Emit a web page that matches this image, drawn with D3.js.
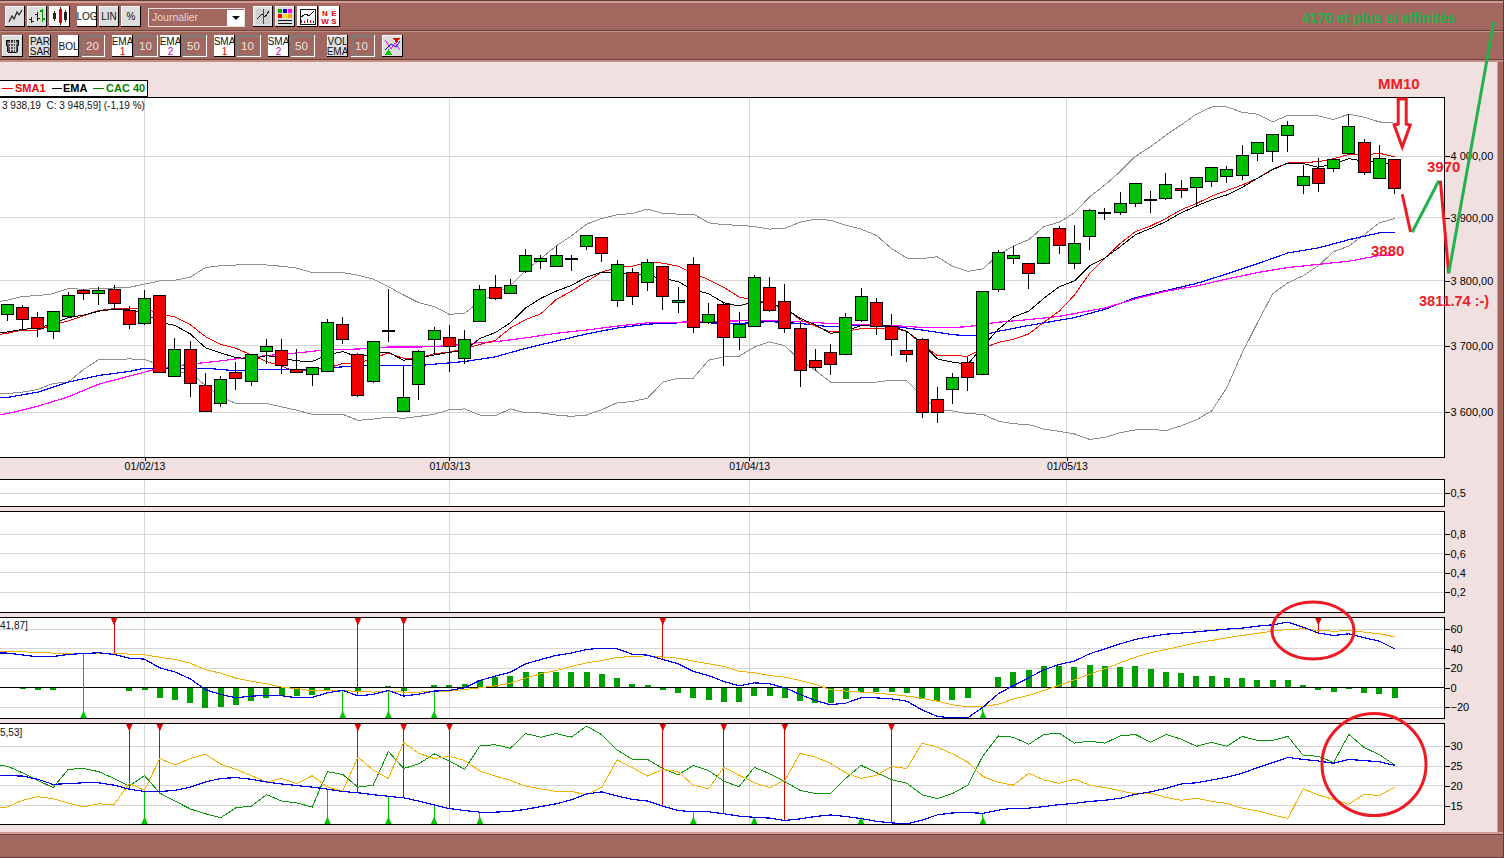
<!DOCTYPE html>
<html>
<head>
<meta charset="utf-8">
<title>CAC 40</title>
<script src="https://cdnjs.cloudflare.com/ajax/libs/d3/7.8.5/d3.min.js"></script>
<style>
  html, body { margin: 0; padding: 0; background: #f0e0e0; overflow: hidden; }
  text { font-family: "Liberation Sans", Arial, sans-serif; }
</style>
</head>
<body>
<div id="chart"></div>
<script>
// ---- candles, one per session
const opens = [3748,3759,3744,3722,3745,3785,3780,3787,3754,3734,3778,3653,3694,3640,3613,3659,3646,3691,3693,3664,3656,3661,3733,3687,3646,3723,3601,3641,3710,3713,3681,3737,3790,3781,3815,3830,3823,3835,3855,3869,3770,3813,3798,3823,3767,3825,3735,3764,3712,3730,3789,3768,3727,3678,3689,3686,3739,3767,3730,3693,3709,3619,3634,3675,3656,3787,3835,3828,3828,3883,3827,3870,3909,3909,3923,3930,3931,3948,3949,3959,3967,3968,4005,4008,4035,3953,3980,3980,4005,4023,3964,3995];
const highs = [3764,3763,3752,3753,3783,3788,3791,3794,3761,3786,3778,3712,3707,3659,3654,3676,3687,3711,3711,3695,3667,3741,3744,3689,3707,3787,3669,3693,3729,3732,3724,3794,3809,3803,3850,3841,3855,3841,3872,3869,3833,3820,3834,3823,3790,3838,3765,3765,3752,3810,3806,3795,3737,3695,3703,3750,3789,3774,3749,3722,3712,3638,3659,3683,3783,3849,3855,3828,3870,3887,3889,3914,3916,3942,3957,3944,3973,3961,3966,3982,3984,4019,4023,4036,4058,3985,3997,3998,4071,4028,4019,3995];
const lows = [3738,3726,3714,3711,3745,3771,3762,3757,3725,3731,3659,3653,3623,3601,3608,3633,3639,3673,3657,3659,3639,3661,3702,3623,3644,3705,3601,3618,3686,3660,3673,3737,3770,3779,3813,3818,3823,3816,3849,3829,3760,3763,3785,3755,3750,3719,3733,3669,3694,3730,3752,3719,3638,3662,3655,3686,3736,3717,3685,3676,3591,3584,3612,3631,3656,3782,3826,3788,3828,3843,3818,3848,3897,3904,3918,3908,3929,3932,3920,3950,3957,3961,3993,3991,4007,3939,3941,3975,4003,3970,3964,3938];
const closes = [3764,3740,3727,3753,3778,3780,3785,3765,3733,3773,3659,3694,3643,3601,3649,3650,3687,3699,3670,3659,3667,3736,3710,3625,3707,3721,3622,3691,3724,3699,3710,3787,3773,3793,3840,3836,3840,3833,3872,3843,3825,3776,3829,3775,3770,3728,3748,3712,3732,3806,3754,3727,3663,3667,3671,3744,3776,3730,3710,3686,3600,3600,3652,3652,3783,3844,3840,3812,3869,3856,3859,3912,3907,3923,3956,3928,3954,3944,3966,3982,3979,4002,4023,4036,4051,3967,3956,3995,4050,3974,3997,3948];

// ---- overlays, first value belongs to the session just off the left edge
const bollUpper = [3766,3770,3776,3777,3780,3788,3787,3788,3789,3790,3795,3800,3801,3806,3821,3824,3825,3825,3825,3823,3820,3813,3813,3813,3809,3803,3791,3778,3766,3760,3748,3750,3768,3780,3793,3817,3835,3855,3871,3890,3899,3905,3907,3914,3907,3906,3906,3892,3889,3888,3886,3882,3883,3893,3898,3896,3888,3882,3872,3851,3836,3835,3838,3823,3815,3819,3841,3855,3865,3886,3893,3908,3934,3953,3975,4000,4016,4035,4052,4070,4082,4082,4073,4070,4057,4068,4068,4067,4061,4070,4065,4057,4055];
const bollLower = [3628,3628,3630,3634,3643,3645,3664,3679,3679,3680,3679,3671,3660,3659,3640,3623,3613,3613,3613,3608,3603,3597,3597,3597,3588,3590,3593,3591,3594,3597,3604,3605,3596,3595,3605,3599,3599,3596,3594,3596,3604,3614,3616,3621,3645,3651,3651,3678,3683,3684,3698,3706,3700,3678,3663,3645,3644,3645,3645,3648,3647,3625,3604,3602,3598,3597,3587,3583,3582,3575,3572,3568,3560,3563,3570,3574,3575,3573,3580,3589,3602,3637,3689,3735,3780,3797,3808,3824,3846,3855,3873,3892,3899];
const sma1 = [3716,3719,3724,3724,3732,3738,3746,3754,3757,3757,3757,3749,3744,3732,3714,3702,3696,3686,3676,3669,3660,3664,3666,3673,3673,3681,3689,3681,3681,3688,3690,3696,3702,3708,3727,3740,3749,3771,3784,3799,3814,3821,3823,3829,3828,3823,3812,3802,3790,3775,3770,3765,3758,3740,3730,3721,3722,3726,3727,3727,3722,3702,3685,3685,3684,3696,3705,3710,3718,3736,3753,3778,3812,3836,3859,3878,3887,3899,3913,3923,3935,3944,3953,3964,3979,3989,3990,3991,3996,4003,4002,4005,3999];
const ema1 = [3718,3721,3725,3727,3734,3743,3747,3753,3756,3755,3750,3736,3731,3718,3697,3689,3682,3680,3685,3681,3677,3676,3686,3691,3683,3688,3690,3678,3681,3686,3690,3693,3711,3720,3735,3758,3773,3784,3793,3806,3814,3813,3811,3808,3804,3799,3786,3780,3766,3761,3768,3764,3758,3742,3732,3719,3722,3731,3732,3730,3722,3704,3680,3675,3672,3699,3725,3744,3753,3773,3791,3800,3824,3836,3854,3873,3883,3894,3908,3919,3929,3937,3949,3964,3978,3989,3988,3982,3988,3996,3992,3990,3986];
// slow averages, read at [session, price]
const ema2 = [[-1,3621],[0,3622],[2,3630],[4,3645],[6,3655],[8,3661],[9,3666],[10,3666],[13,3666],[15,3662],[17,3664],[19,3664],[21,3666],[23,3670],[25,3670],[27,3670],[28,3672],[30,3676],[32,3683],[34,3696],[36,3707],[38,3718],[40,3727],[42,3733],[44,3735],[46,3735],[48,3734],[50,3737],[52,3734],[54,3729],[56,3731],[58,3730],[60,3724],[62,3717],[63,3715],[64,3716],[65,3722],[67,3731],[70,3743],[72,3756],[74,3774],[76,3785],[78,3796],[80,3811],[82,3827],[84,3844],[86,3852],[88,3865],[90,3876],[91,3877]];
const sma2 = [[-1,3595],[0,3598],[2,3609],[4,3623],[6,3642],[8,3654],[9,3660],[10,3666],[12,3672],[14,3677],[15,3680],[17,3685],[19,3689],[21,3694],[23,3695],[25,3698],[27,3698],[29,3700],[31,3705],[32,3706],[34,3712],[36,3719],[38,3724],[40,3730],[42,3735],[44,3736],[46,3737],[48,3738],[50,3739],[52,3737],[54,3734],[56,3732],[58,3731],[60,3728],[62,3728],[63,3729],[64,3733],[65,3736],[67,3740],[69,3745],[72,3758],[74,3772],[76,3784],[78,3792],[80,3803],[82,3813],[84,3821],[86,3826],[88,3831],[90,3840],[91,3841]];

const priceTicks = [3600, 3700, 3800, 3900, 4000];
const dateLabels = ["01/02/13", "01/03/13", "01/04/13", "01/05/13"];
const datePositions = [9, 29, 48.67, 69.5];

// ---- MACD panel
const macdLine = [35.6,35.6,33.7,31.8,32.1,34.2,35.2,35.9,34.2,30.4,29.4,20.5,16.2,9.2,-2,-6.8,-10.3,-8.5,-7.9,-8.2,-10.3,-9.9,-5.1,-2.7,-8.2,-6.8,-2.7,-8.5,-6.5,-3.4,-2.7,0,7.5,12,16,24.6,29,33.2,35.6,39.3,40.7,40,34.5,33.5,29,24.6,16.8,12.6,6.5,2,5.1,4.1,0,-6.8,-13,-17.4,-15.7,-10.3,-10.3,-11.3,-13.7,-22.6,-29.4,-30.8,-30.8,-19.8,-6.2,2.4,10.3,18.5,23.9,27.4,34.9,40,45.1,49.6,52.6,55,56.1,57.4,58.8,60.2,61.2,63.2,64.6,67.4,62.2,56.1,53.7,55.4,51.3,47.9,40];
const macdSignal = [36.9,36.9,36.9,36.2,35.6,35.6,35.6,35.6,35.6,34.5,33.8,31.4,29,25.3,18.5,15,9.9,6.8,4.1,0.7,-1,-3.1,-2.7,-2.7,-3.8,-4.4,-3.8,-4.4,-4.4,-3.8,-3.4,-1.7,0,2,4.8,9.9,14.4,17.8,21.9,25.6,28,31.1,32.1,32.8,31.5,30.4,27.4,24.6,21.9,17,15.4,12.6,10.9,7.5,3.4,-2,-3.4,-4.4,-5.5,-6.8,-8.5,-10.6,-13.7,-17.4,-19.5,-19.1,-17,-11.3,-7.9,-2.7,2.4,8.2,13.7,19.5,25.6,31.5,35.9,39.3,42.7,46.2,48.5,51.3,53.7,55.7,58.1,59.8,60.5,58.8,58.1,58.5,57.1,55.4,52.3];
const macdHist = [0,-1.7,-2.7,-2.7,0,0,0,0,-3.7,-2.7,-10,-12,-16,-21,-20,-18,-14,-10,-8,-8,-7,-2,0,-4,0,1.4,-3,0,2.4,2.4,3.4,8.5,10.6,12.6,15.7,16.7,16.7,15.7,15.7,13.7,9.6,3.4,2.4,-2.7,-5.8,-10,-12,-15,-15,-8.9,-8.9,-10,-14,-16,-16,-11,-3.8,-3.8,-3.8,-5.8,-11,-14,-12,-10,0,10.6,16.7,17.8,21.9,21.9,20.9,22.9,21.9,20.9,21.9,18.8,16.7,14.7,12.6,11.6,9.6,9.6,8.5,8.5,8.5,2.4,-2.4,-4.4,-1.4,-5.5,-6.5,-10.6];
const macdTicks = [-20, 0, 20, 40, 60];
const macdSell = [7, 23, 26, 43, 86];
const macdBuy = [5, 22, 25, 28, 64];

// ---- DMI panel
const adx = [22.6,22.6,22.5,21.7,20.4,20.6,20.8,20.8,20.2,19.2,18.6,18.6,18.9,19.7,21,21.9,22.1,21.7,21,20.5,20.1,19.7,19.2,18.6,18.3,17.8,17.4,17,16.2,15.2,14.3,13.8,13.4,13.4,13.6,14.1,14.8,15.5,16.5,18,18.5,17.5,16.6,16.2,14.9,13.8,13.5,13.5,13,12.4,12.1,11.9,11.3,11.7,12.3,12.7,12.3,11.8,11.1,10.7,10.4,11.4,12.7,13.2,13.3,13.1,13.9,14.4,14.4,14.8,15.3,15.6,16.1,16.4,16.9,17.9,18.5,19.4,20.5,20.8,21.5,22.2,23.2,24.6,25.9,27.2,26.7,26.3,25.7,26.7,26.4,26.1,25.2];
const diPlus = [25.2,25,23.3,21.4,19.6,24.2,24.4,23.6,21.9,20,22.6,18.2,16.2,14.2,13,12,14.5,14.9,17.8,16.2,15.7,14.7,23.6,22.9,19.7,20.2,28.7,24.4,25.6,28.1,26.3,24.2,30.1,30.4,29.5,33.2,32.3,33.2,32.3,35.1,32.9,29.1,26.7,26.7,24.4,22.8,25.2,23.9,21.2,19.8,24.7,23.1,21.1,18.9,18.1,18.1,21.9,25.2,23.4,21.6,20.7,17.8,16.8,18.1,20.2,27.6,32.6,32.3,30.5,33,33.3,30.8,31.3,30.8,32.6,33,31,33,31.8,30,31,30,32.5,31.5,31.5,32.5,27.7,27.5,25.9,33,29.7,27.9,25.3];
const diMinus = [14.5,14.7,16.4,17.3,16.8,15.7,14.7,15.5,15.3,20.6,18.9,26.9,25.3,26.9,28,25.5,24.2,22.6,21,21.9,20.6,22.6,19.7,18.7,27.3,24,21.9,31,28.2,26.9,27.5,26.4,23.8,22.5,21.4,19.9,19.3,18.6,18.6,17.8,19.7,26.6,24.6,22.5,24.2,23.6,20.2,19.3,24.7,22.7,20.8,19.6,21.4,28.2,27.3,25.7,23.3,21.9,22.7,24.9,24.4,30.8,29.8,28.1,26,22.4,20.9,20.2,23.2,21.5,20.7,21.7,20.2,19.6,18.8,18,18.2,17.1,16.4,16.9,16.1,15.6,14.4,13.7,12.7,11.8,19.3,17.7,16.6,15.4,17.9,17.6,19.7];
const dmiTicks = [15, 20, 25, 30];
const dmiSell = [8, 10, 23, 26, 29, 43, 47, 51, 58];
const dmiBuy = [9, 21, 25, 28, 31, 45, 49, 56, 64];

// ---- empty panels
const volTicks = [0.5];
const oscTicks = [0.2, 0.4, 0.6, 0.8];

// ---- hand drawn forecast, [session, price]
const forecastDown1 = [[91.5, 3938], [92.05, 3877]];
const forecastUp1 = [[92.15, 3877], [93.9, 3960]];
const forecastDown2 = [[94, 3960], [94.55, 3812]];
const forecastUp2 = [[94.55, 3812], [97.5, 4227]];

const W = 1504, H = 858;
const plotRight = 1444.5;
const BROWN = "#a26860", PINK = "#f0e0e0", GRID = "#d6d6d6";
const GREEN = "#00bf00", RED = "#f00000", HAND_RED = "#ed1c24", HAND_GREEN = "#22b14c";

const svg = d3.select("#chart").append("svg")
  .attr("width", W)
  .attr("height", H)
  .style("display", "block");

const frLocale = d3.formatLocale({ decimal: ",", thousands: " ", grouping: [3], currency: ["", ""] });

const x = d3.scaleLinear().domain([0, 91]).range([7.3, 1394.6]);
const yPrice = d3.scaleLog().domain([3600, 4000]).range([412.3, 156.3]);
const yVol = d3.scaleLinear().domain([0, 0.5]).range([507, 493.3]);
const yOsc = d3.scaleLinear().domain([0.2, 0.8]).range([592.3, 534.3]);
const yMacd = d3.scaleLinear().domain([-20, 60]).range([707.3, 629.3]);
const yDmi = d3.scaleLinear().domain([15, 30]).range([805.8, 746.3]);

// ---- window background
svg.append("rect").attr("width", W).attr("height", H).attr("fill", PINK);
svg.append("rect").attr("width", W).attr("height", 61).attr("fill", BROWN);
svg.append("rect").attr("y", 832).attr("width", W).attr("height", 26).attr("fill", BROWN);
svg.append("rect").attr("x", 1497).attr("y", 60).attr("width", 7).attr("height", 775).attr("fill", BROWN);
[[0, 1, "#5e3a35"], [1, 2, "#d39b92"], [30, 1, "#6b443e"], [31, 1, "#c58f87"], [59, 1, "#6b443e"], [60, 2, "#c58f87"], [832, 2, "#d39b92"], [834, 1, "#6b443e"], [857, 1, "#5e3a35"]]
  .forEach(b => svg.append("rect").attr("y", b[0]).attr("width", W).attr("height", b[1]).attr("fill", b[2]));
svg.append("rect").attr("x", 1497).attr("y", 60).attr("width", 1).attr("height", 772).attr("fill", "#d39b92");
svg.append("rect").attr("x", 1503).attr("width", 1).attr("height", H).attr("fill", "#5e3a35");

// ---- toolbar
const toolbar = svg.append("g");

function button(bx, by, w, h, lines, opts = {}) {
  const g = toolbar.append("g").attr("transform", `translate(${bx},${by})`).style("shape-rendering", "crispEdges");
  g.append("rect").attr("width", w).attr("height", h).attr("fill", opts.on ? "#fff" : "#dedede");
  g.append("path").attr("d", `M0.5,${h - 0.5}V0.5H${w - 0.5}`).attr("fill", "none").attr("stroke", "#fff");
  g.append("path").attr("d", `M${w - 0.5},0V${h - 0.5}H0`).attr("fill", "none").attr("stroke", "#000").attr("stroke-width", 1.6);
  const lh = 10;
  lines.forEach((t, i) => {
    g.append("text")
      .attr("x", w / 2)
      .attr("y", h / 2 + 3.5 + (i - (lines.length - 1) / 2) * lh)
      .attr("text-anchor", "middle")
      .attr("font-size", 10)
      .attr("fill", t === "1" ? "#e00000" : t === "2" ? "#c000c0" : "#111")
      .style("shape-rendering", "auto")
      .text(t);
  });
  return g;
}

function valueBox(bx, by, w, h, label) {
  const g = toolbar.append("g").attr("transform", `translate(${bx},${by})`).style("shape-rendering", "crispEdges");
  g.append("rect").attr("width", w).attr("height", h).attr("fill", "#fff");
  g.append("rect").attr("x", 0).attr("y", 0).attr("width", w - 1).attr("height", h - 1).attr("fill", "#7c7c7c");
  g.append("rect").attr("x", 2).attr("y", 2).attr("width", w - 4).attr("height", h - 4).attr("fill", BROWN);
  g.append("text").attr("x", 4).attr("y", h / 2 + 4).attr("font-size", 11.5).attr("fill", "#ece2e0").style("shape-rendering", "auto").text(label);
}

const chartIcon1 = button(5, 6, 20, 21, []);
chartIcon1.append("path").attr("d", "M4,16L7,10L9,13L12,6L14,9L17,4").attr("fill", "none").attr("stroke", "#222").attr("stroke-width", 1.2).style("shape-rendering", "auto");
const chartIcon2 = button(27, 6, 20, 21, []);
chartIcon2.append("path").attr("d", "M4.5,11V17M2,13H4.5M4.5,15H7M10.5,6V15M8,8H10.5M10.5,12H13").attr("stroke", "#222").attr("fill", "none");
chartIcon2.append("path").attr("d", "M15.5,3V16M13,5H15.5M15.5,13H18").attr("stroke", "#00a000").attr("stroke-width", 1.5).attr("fill", "none");
const chartIcon3 = button(49, 6, 21, 21, [], { on: true });
[[5, 7, 13, "#222"], [11, 3, 17, "#e00000"], [16, 6, 14, "#222"]].forEach(c => {
  chartIcon3.append("path").attr("d", `M${c[0] + 0.5},${c[1] - 2}V${c[2] + 2}`).attr("stroke", "#222");
  chartIcon3.append("rect").attr("x", c[0] - 1).attr("y", c[1]).attr("width", 3).attr("height", c[2] - c[1]).attr("fill", c[3]);
});
button(77, 6, 20, 21, ["LOG"], { on: true });
button(99, 6, 20, 21, ["LIN"]);
button(121, 6, 20, 21, ["%"]);

// period selector
toolbar.append("rect").attr("x", 148.5).attr("y", 8.5).attr("width", 96).attr("height", 18)
  .attr("fill", BROWN).attr("stroke", "#e8dcdc").style("shape-rendering", "crispEdges");
toolbar.append("rect").attr("x", 227).attr("y", 10).attr("width", 17).attr("height", 16).attr("fill", "#fff");
toolbar.append("path").attr("d", "M232,16H240L236,20Z").attr("fill", "#111");
toolbar.append("text").attr("x", 152).attr("y", 21).attr("font-size", 10.5).attr("fill", "#e4d6d4").text("Journalier");

const toolIcon1 = button(253, 6, 20, 21, []);
toolIcon1.append("rect").attr("x", 3).attr("y", 3).attr("width", 14).attr("height", 15).attr("fill", "#cfcfcf");
toolIcon1.append("path").attr("d", "M4,13L9,8L12,11L16,5").attr("fill", "none").attr("stroke", "#222");
toolIcon1.append("path").attr("d", "M10.5,3V18").attr("stroke", "#e00000");
const toolIcon2 = button(275, 6, 20, 21, []);
[[3, 3, "#00a000"], [8, 3, "#0000e0"], [13, 3, "#ff00ff"], [3, 8, "#ff0000"], [8, 8, "#ffe000"], [13, 8, "#ffa000"]].forEach(c =>
  toolIcon2.append("rect").attr("x", c[0]).attr("y", c[1]).attr("width", 4).attr("height", 4).attr("fill", c[2]));
toolIcon2.append("path").attr("d", "M3,14.5H17M3,17.5H17").attr("stroke", "#111");
const toolIcon3 = button(297, 6, 21, 21, [], { on: true });
toolIcon3.append("rect").attr("x", 3).attr("y", 3).attr("width", 15).attr("height", 15).attr("fill", "#fff").attr("stroke", "#111");
toolIcon3.append("path").attr("d", "M4,11L9,8L12,10L17,5").attr("fill", "none").attr("stroke", "#111");
toolIcon3.append("path").attr("d", "M4,17V14M7,17V15M10,17V13M13,17V14M16,17V15").attr("stroke", "#e00000");
const toolIcon4 = button(319, 6, 21, 21, [], { on: true });
toolIcon4.selectAll("text").data(["N", "E", "W", "S"]).join("text")
  .attr("x", (d, i) => 6 + (i % 2) * 9)
  .attr("y", (d, i) => 10 + Math.floor(i / 2) * 8)
  .attr("text-anchor", "middle")
  .attr("font-size", 8)
  .attr("font-weight", "bold")
  .attr("fill", "#e00000")
  .text(d => d);

const trash = button(2, 35, 21, 22, []);
trash.append("path").attr("d", "M4,5H17L15,17H6Z").attr("fill", "#555").attr("stroke", "#111");
trash.append("path").attr("d", "M6,8H15M7,11H14M8,14H13M8,5V17M11,5V17M13,5V17").attr("stroke", "#ccc");
button(29, 35, 22, 22, ["PAR", "SAR"]);
button(58, 35, 21, 22, ["BOL"], { on: true });
valueBox(82, 35, 23, 22, "20");
button(112, 35, 21, 22, ["EMA", "1"], { on: true });
valueBox(135, 35, 23, 22, "10");
button(160, 35, 21, 22, ["EMA", "2"], { on: true });
valueBox(183, 35, 24, 22, "50");
button(214, 35, 21, 22, ["SMA", "1"], { on: true });
valueBox(237, 35, 24, 22, "10");
button(268, 35, 21, 22, ["SMA", "2"], { on: true });
valueBox(291, 35, 24, 22, "50");
button(327, 35, 21, 22, ["VOL", "EMA"]);
valueBox(351, 35, 24, 22, "10");
const signalIcon = button(382, 35, 21, 22, []);
signalIcon.append("path").attr("d", "M3,5L9,14L13,8L18,15").attr("fill", "none").attr("stroke", "#ff00ff").style("shape-rendering", "auto");
signalIcon.append("path").attr("d", "M3,15L9,9L14,12L18,6").attr("fill", "none").attr("stroke", "#0000e0").style("shape-rendering", "auto");
signalIcon.append("path").attr("d", "M11,3H18L14.5,8Z").attr("fill", "#e00000");
signalIcon.append("path").attr("d", "M3,20L6.5,14L10,20Z").attr("fill", "#00c000");

// ---- panels
const panels = [
  { top: 97, bottom: 457.5 },
  { top: 479.5, bottom: 506.5 },
  { top: 511.5, bottom: 612.5 },
  { top: 617.5, bottom: 718.5 },
  { top: 723.5, bottom: 824.5 }
];

panels.forEach(p => {
  svg.append("rect")
    .attr("x", -2)
    .attr("y", p.top)
    .attr("width", plotRight + 2)
    .attr("height", p.bottom - p.top)
    .attr("fill", "#fff");
});

const defs = svg.append("defs");
panels.forEach((p, i) => {
  defs.append("clipPath").attr("id", `clip${i}`).append("rect")
    .attr("x", 0).attr("y", p.top).attr("width", plotRight).attr("height", p.bottom - p.top);
});

// vertical date lines run through every panel
panels.forEach(p => {
  svg.append("g").selectAll("line").data(datePositions).join("line")
    .attr("x1", d => x(d)).attr("x2", d => x(d))
    .attr("y1", p.top).attr("y2", p.bottom)
    .attr("stroke", GRID)
    .style("shape-rendering", "crispEdges");
});

function hGrid(scale, ticks) {
  svg.append("g").selectAll("line").data(ticks).join("line")
    .attr("x1", 0).attr("x2", plotRight)
    .attr("y1", d => scale(d)).attr("y2", d => scale(d))
    .attr("stroke", GRID)
    .style("shape-rendering", "crispEdges");
}
hGrid(yPrice, priceTicks);
hGrid(yVol, volTicks);
hGrid(yOsc, oscTicks);
hGrid(yMacd, macdTicks);
hGrid(yDmi, dmiTicks);

const bySession = arr => arr.map((v, i) => [i - 1, v]);

function drawLine(layer, pts, scale, color, width = 1) {
  const line = d3.line().x(d => x(d[0])).y(d => scale(d[1]));
  layer.append("path")
    .datum(pts)
    .attr("d", line)
    .attr("fill", "none")
    .attr("stroke", color)
    .attr("stroke-width", width)
    .style("shape-rendering", "crispEdges");
}

// ---- main price panel
const main = svg.append("g").attr("clip-path", "url(#clip0)");
drawLine(main, bySession(bollUpper), yPrice, "#8c8c8c");
drawLine(main, bySession(bollLower), yPrice, "#8c8c8c");
drawLine(main, ema2, yPrice, "#0000f0", 1.2);
drawLine(main, sma2, yPrice, "#ff00ff", 1.2);
drawLine(main, bySession(sma1), yPrice, "#f00000");
drawLine(main, bySession(ema1), yPrice, "#000000");

const candleData = opens.map((o, i) => ({ i, o, h: highs[i], l: lows[i], c: closes[i] }));
const candles = main.selectAll(".candle").data(candleData).join("g").attr("class", "candle").style("shape-rendering", "crispEdges");
candles.append("line")
  .attr("x1", d => x(d.i)).attr("x2", d => x(d.i))
  .attr("y1", d => yPrice(d.h)).attr("y2", d => yPrice(d.l))
  .attr("stroke", "#000");
candles.append("rect")
  .attr("x", d => x(d.i) - 6)
  .attr("width", 12)
  .attr("y", d => yPrice(Math.max(d.o, d.c)))
  .attr("height", d => Math.abs(yPrice(d.o) - yPrice(d.c)))
  .attr("fill", d => Math.abs(d.o - d.c) <= 2 ? "#000" : d.c >= d.o ? GREEN : RED)
  .attr("stroke", "#000");

// ---- MACD panel
const macdG = svg.append("g").attr("clip-path", "url(#clip3)");
macdG.append("g").selectAll("rect").data(macdHist).join("rect")
  .attr("x", (d, i) => x(i) - 3)
  .attr("width", 6)
  .attr("y", d => Math.min(yMacd(0), yMacd(d)))
  .attr("height", d => Math.abs(yMacd(d) - yMacd(0)))
  .attr("fill", "#00a000")
  .style("shape-rendering", "crispEdges");
macdG.append("line").attr("x1", 0).attr("x2", plotRight).attr("y1", yMacd(0)).attr("y2", yMacd(0))
  .attr("stroke", "#000").style("shape-rendering", "crispEdges");

function drawSignals(layer, sell, buy, values, scale, panel) {
  sell.forEach(i => {
    layer.append("line").attr("x1", x(i)).attr("x2", x(i)).attr("y1", panel.top).attr("y2", scale(values[i + 1]))
      .attr("stroke", "#e00000").style("shape-rendering", "crispEdges");
    layer.append("path").attr("d", `M${x(i) - 3.5},${panel.top}H${x(i) + 3.5}L${x(i)},${panel.top + 8}Z`).attr("fill", "#e00000");
  });
  buy.forEach(i => {
    layer.append("line").attr("x1", x(i)).attr("x2", x(i)).attr("y1", panel.bottom).attr("y2", scale(values[i + 1]))
      .attr("stroke", "#00c800").style("shape-rendering", "crispEdges");
    layer.append("path").attr("d", `M${x(i) - 3.5},${panel.bottom}H${x(i) + 3.5}L${x(i)},${panel.bottom - 8}Z`).attr("fill", "#00c800");
  });
}

drawSignals(macdG, macdSell, macdBuy, macdLine, yMacd, panels[3]);
drawLine(macdG, bySession(macdSignal), yMacd, "#f5b000");
drawLine(macdG, bySession(macdLine), yMacd, "#0000e0", 1.2);

// ---- DMI panel
const dmiG = svg.append("g").attr("clip-path", "url(#clip4)");
drawSignals(dmiG, dmiSell, dmiBuy, adx, yDmi, panels[4]);
drawLine(dmiG, bySession(diPlus), yDmi, "#0a960a");
drawLine(dmiG, bySession(diMinus), yDmi, "#f5b000");
drawLine(dmiG, bySession(adx), yDmi, "#0000e0", 1.2);

// ---- panel frames
panels.forEach(p => {
  svg.append("rect")
    .attr("x", -2)
    .attr("y", p.top)
    .attr("width", plotRight + 2)
    .attr("height", p.bottom - p.top)
    .attr("fill", "none")
    .attr("stroke", "#000")
    .style("shape-rendering", "crispEdges");
});

// ---- axes
function rightAxis(scale, ticks, fmt) {
  const g = svg.append("g")
    .attr("transform", `translate(${plotRight},0)`)
    .call(d3.axisRight(scale).tickValues(ticks).tickFormat(fmt).tickSize(5).tickPadding(1));
  g.select(".domain").remove();
  g.selectAll("line").style("shape-rendering", "crispEdges").attr("stroke", "#000");
  g.selectAll("text")
    .style("font-family", '"Liberation Sans", Arial, sans-serif')
    .style("font-size", "11px")
    .attr("fill", "#000");
}
rightAxis(yPrice, priceTicks, frLocale.format(",.2f"));
rightAxis(yVol, volTicks, frLocale.format(".1f"));
rightAxis(yOsc, oscTicks, frLocale.format(".1f"));
rightAxis(yMacd, macdTicks, d3.format("d"));
rightAxis(yDmi, dmiTicks, d3.format("d"));

const dateAxis = svg.append("g")
  .attr("transform", `translate(0,${panels[0].bottom})`)
  .call(d3.axisBottom(x).tickValues(datePositions).tickFormat((d, i) => dateLabels[i]).tickSize(3).tickPadding(2));
dateAxis.select(".domain").remove();
dateAxis.selectAll("line").style("shape-rendering", "crispEdges").attr("stroke", "#000");
dateAxis.selectAll("text")
  .style("font-family", '"Liberation Sans", Arial, sans-serif')
  .style("font-size", "10.5px")
  .attr("fill", "#000");

// ---- legend and readouts
const legend = svg.append("g");
legend.append("rect").attr("x", -2).attr("y", 80.5).attr("width", 149.5).attr("height", 16)
  .attr("fill", "#fff").attr("stroke", "#000").style("shape-rendering", "crispEdges");
[
  { x1: 2, x2: 13, tx: 15, label: "SMA1", color: "#f00000" },
  { x1: 52, x2: 62, tx: 63, label: "EMA", color: "#000" },
  { x1: 93, x2: 104, tx: 106, label: "CAC 40", color: "#008000" }
].forEach(e => {
  legend.append("line").attr("x1", e.x1).attr("x2", e.x2).attr("y1", 88).attr("y2", 88).attr("stroke", e.color).style("shape-rendering", "crispEdges");
  legend.append("text").attr("x", e.tx).attr("y", 92).attr("font-size", 11).attr("font-weight", "bold").attr("fill", e.color).text(e.label);
});

svg.append("text").attr("x", 2).attr("y", 109).attr("font-size", 10).attr("fill", "#111").attr("xml:space", "preserve").text("3 938,19  C: 3 948,59] (-1,19 %)");
svg.append("text").attr("x", 0).attr("y", 629).attr("font-size", 10).attr("fill", "#111").text("41,87]");
svg.append("text").attr("x", 0).attr("y", 736).attr("font-size", 10).attr("fill", "#111").text("5,53]");

// ---- hand drawn annotations on top of the screenshot
const notes = svg.append("g");
const handLine = d3.line().x(d => x(d[0])).y(d => yPrice(d[1]));
[[forecastDown1, HAND_RED], [forecastUp1, HAND_GREEN], [forecastDown2, HAND_RED], [forecastUp2, HAND_GREEN]].forEach(s => {
  notes.append("path").datum(s[0]).attr("d", handLine).attr("fill", "none").attr("stroke", s[1]).attr("stroke-width", 3);
});

// hollow arrow under MM10
const ax = x(91.5);
notes.append("path")
  .attr("d", `M${ax - 4},99H${ax + 4}V124L${ax + 8},125L${ax},147L${ax - 8},125L${ax - 4},124Z`)
  .attr("fill", "none")
  .attr("stroke", HAND_RED)
  .attr("stroke-width", 3);

notes.append("ellipse").attr("cx", 1313).attr("cy", 630.5).attr("rx", 41).attr("ry", 28.5)
  .attr("fill", "none").attr("stroke", HAND_RED).attr("stroke-width", 3);
notes.append("ellipse").attr("cx", 1374).attr("cy", 764.5).attr("rx", 52).attr("ry", 51)
  .attr("fill", "none").attr("stroke", HAND_RED).attr("stroke-width", 3);

[
  { label: "MM10", tx: 1378, ty: 89, size: 15, color: HAND_RED },
  { label: "3970", tx: 1427, ty: 172, size: 15, color: HAND_RED },
  { label: "3880", tx: 1371, ty: 256, size: 15, color: HAND_RED },
  { label: "3811.74 :-)", tx: 1419, ty: 306, size: 14.5, color: HAND_RED },
  { label: "4170 et plus si affinités", tx: 1302, ty: 23, size: 14, color: HAND_GREEN }
].forEach(n => {
  notes.append("text")
    .attr("x", n.tx).attr("y", n.ty)
    .attr("font-size", n.size)
    .attr("font-weight", "bold")
    .attr("fill", n.color)
    .text(n.label);
});
</script>
</body>
</html>
